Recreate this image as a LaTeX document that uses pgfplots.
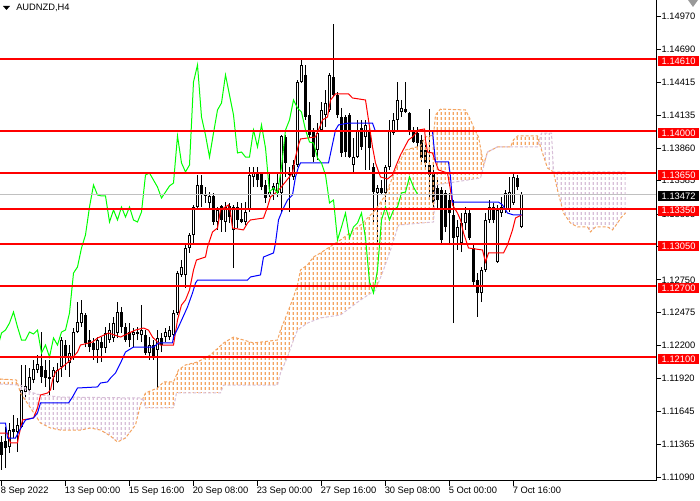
\documentclass[border=0pt]{standalone}
\usepackage{fontspec}
\setmainfont{Liberation Sans}
\usepackage{pgfplots}
\pgfplotsset{compat=1.18}
\usepackage{pgfplotstable}
\usetikzlibrary{patterns}

\definecolor{sandy}{RGB}{244,164,96}
\definecolor{thistl}{RGB}{216,191,216}
\definecolor{mtlime}{RGB}{0,255,0}
\definecolor{bidgray}{RGB}{192,192,192}
\newcommand\mtfont{\fontsize{7}{8}\selectfont}

% vertical dotted hatch used by the Ichimoku cloud (one stroke per 4px bar)
\pgfdeclarepatterninherentlycolored{kumoA}{\pgfpointorigin}{\pgfpoint{3pt}{3.75pt}}{\pgfpoint{3pt}{3.75pt}}{%
  \pgfsetstrokecolor{sandy}\pgfsetlinewidth{1.05pt}%
  \pgfpathmoveto{\pgfpoint{1.125pt}{0pt}}%
  \pgfpathlineto{\pgfpoint{1.125pt}{2.6pt}}%
  \pgfusepath{stroke}}
\pgfdeclarepatterninherentlycolored{kumoB}{\pgfpointorigin}{\pgfpoint{3pt}{3.75pt}}{\pgfpoint{3pt}{3.75pt}}{%
  \pgfsetstrokecolor{thistl}\pgfsetlinewidth{1.05pt}%
  \pgfpathmoveto{\pgfpoint{1.125pt}{0pt}}%
  \pgfpathlineto{\pgfpoint{1.125pt}{2.6pt}}%
  \pgfusepath{stroke}}

% AUDNZD H4 candles: index, open, high, low, close
\pgfplotstableread{
i o h l c
0 1.11385 1.11436 1.11150 1.11276
1 1.11394 1.11512 1.11166 1.11335
2 1.11343 1.11545 1.11293 1.11486
3 1.11495 1.11613 1.11419 1.11469
4 1.11469 1.11588 1.11302 1.11529
5 1.11512 1.12034 1.11503 1.11823
6 1.11806 1.12034 1.11739 1.11857
7 1.11823 1.12009 1.11798 1.11933
8 1.11907 1.12076 1.11882 1.12000
9 1.11992 1.12118 1.11966 1.12042
10 1.12025 1.12311 1.11882 1.11933
11 1.11992 1.12076 1.11849 1.11924
12 1.11933 1.12076 1.11781 1.11916
13 1.11933 1.12017 1.11823 1.11992
14 1.11891 1.12050 1.11882 1.11992
15 1.12017 1.12269 1.11933 1.12244
16 1.12202 1.12244 1.11992 1.12101
17 1.12050 1.12202 1.11933 1.12135
18 1.12101 1.12345 1.12076 1.12311
19 1.12311 1.12564 1.12303 1.12396
20 1.12387 1.12581 1.12354 1.12472
21 1.12455 1.12472 1.12185 1.12219
22 1.12244 1.12328 1.12143 1.12185
23 1.12219 1.12261 1.12076 1.12160
24 1.12160 1.12269 1.12050 1.12244
25 1.12227 1.12269 1.12059 1.12177
26 1.12177 1.12354 1.12135 1.12303
27 1.12244 1.12387 1.12219 1.12328
28 1.12261 1.12438 1.12227 1.12387
29 1.12303 1.12564 1.12261 1.12480
30 1.12480 1.12522 1.12303 1.12354
31 1.12354 1.12387 1.12227 1.12244
32 1.12311 1.12387 1.12185 1.12244
33 1.12286 1.12345 1.12185 1.12311
34 1.12311 1.12354 1.12244 1.12295
35 1.12286 1.12539 1.12227 1.12328
36 1.12286 1.12328 1.12118 1.12135
37 1.12135 1.12269 1.12076 1.12202
38 1.12202 1.12244 1.12076 1.12101
39 1.12160 1.12328 1.11840 1.12261
40 1.12261 1.12303 1.12143 1.12202
41 1.12269 1.12345 1.12227 1.12311
42 1.12269 1.12362 1.12244 1.12328
43 1.12286 1.12497 1.12244 1.12472
44 1.12472 1.12825 1.12455 1.12808
45 1.12792 1.12918 1.12775 1.12859
46 1.12792 1.13061 1.12682 1.13019
47 1.13019 1.13146 1.12977 1.13129
48 1.13129 1.13381 1.13045 1.13364
49 1.13364 1.13634 1.13355 1.13549
50 1.13549 1.13634 1.13364 1.13465
51 1.13472 1.13532 1.13398 1.13457
52 1.13398 1.13490 1.13339 1.13457
53 1.13457 1.13482 1.13212 1.13238
54 1.13238 1.13364 1.13171 1.13339
55 1.13372 1.13381 1.13154 1.13255
56 1.13238 1.13406 1.13154 1.13364
57 1.13372 1.13398 1.13229 1.13280
58 1.13171 1.13381 1.12850 1.13364
59 1.13364 1.13406 1.13187 1.13255
60 1.13263 1.13398 1.13229 1.13238
61 1.13238 1.13406 1.13212 1.13322
62 1.13339 1.13701 1.13322 1.13634
63 1.13617 1.13701 1.13532 1.13650
64 1.13659 1.13701 1.13532 1.13591
65 1.13650 1.13659 1.13507 1.13532
66 1.13549 1.13591 1.13398 1.13440
67 1.13465 1.13650 1.13448 1.13490
68 1.13507 1.13566 1.13423 1.13541
69 1.13482 1.13650 1.13448 1.13566
70 1.13482 1.13970 1.13322 1.13962
71 1.13954 1.13970 1.13617 1.13735
72 1.13634 1.13701 1.13322 1.13659
73 1.13617 1.13760 1.13591 1.13718
74 1.13718 1.14433 1.13701 1.14417
75 1.14417 1.14602 1.14408 1.14560
76 1.14476 1.14560 1.14097 1.14122
77 1.14139 1.14248 1.13945 1.13970
78 1.14012 1.14029 1.13743 1.13785
79 1.13844 1.14071 1.13760 1.13987
80 1.14012 1.14248 1.13996 1.14181
81 1.14139 1.14349 1.14038 1.14240
82 1.14181 1.14492 1.14164 1.14476
83 1.14459 1.14905 1.14290 1.14307
84 1.14307 1.14332 1.14113 1.14139
85 1.14122 1.14198 1.13785 1.13819
86 1.14122 1.14139 1.13785 1.13827
87 1.14139 1.14156 1.13777 1.13785
88 1.13718 1.13945 1.13659 1.13785
89 1.13785 1.14097 1.13777 1.14012
90 1.14029 1.14097 1.13844 1.13870
91 1.13954 1.14097 1.13676 1.14055
92 1.14012 1.14029 1.13676 1.13861
93 1.13701 1.13735 1.13221 1.13490
94 1.13482 1.13549 1.13070 1.13524
95 1.13524 1.13591 1.13465 1.13482
96 1.13482 1.13718 1.13406 1.13701
97 1.13701 1.14097 1.13676 1.14012
98 1.13987 1.14156 1.13970 1.14097
99 1.14097 1.14417 1.14012 1.14265
100 1.14164 1.14265 1.14122 1.14198
101 1.14189 1.14417 1.14156 1.14164
102 1.14156 1.14164 1.13970 1.14012
103 1.14012 1.14038 1.13903 1.13911
104 1.13987 1.14038 1.13844 1.13903
105 1.13929 1.13970 1.13735 1.13777
106 1.13844 1.13903 1.13701 1.13735
107 1.13718 1.14189 1.13423 1.13634
108 1.13650 1.13735 1.13339 1.13398
109 1.13524 1.13617 1.13339 1.13423
110 1.13507 1.13532 1.13045 1.13087
111 1.13482 1.13507 1.13154 1.13196
112 1.13423 1.13482 1.13061 1.13313
113 1.13297 1.13423 1.12387 1.13103
114 1.13112 1.13255 1.13002 1.13196
115 1.13061 1.13313 1.12985 1.13229
116 1.13229 1.13364 1.13171 1.13313
117 1.13313 1.13339 1.13087 1.13103
118 1.13019 1.13061 1.12690 1.12733
119 1.12749 1.12808 1.12438 1.12640
120 1.12640 1.12859 1.12564 1.12834
121 1.12834 1.13313 1.12817 1.13255
122 1.13255 1.13423 1.13229 1.13364
123 1.13364 1.13398 1.13229 1.13255
124 1.12901 1.13381 1.12893 1.13339
125 1.13313 1.13448 1.13280 1.13364
126 1.13339 1.13507 1.13313 1.13482
127 1.13339 1.13617 1.13322 1.13490
128 1.13398 1.13650 1.13381 1.13617
129 1.13608 1.13634 1.13507 1.13532
130 1.13196 1.13490 1.13187 1.13472
}\candles

\begin{document}
\begin{tikzpicture}
\fill[white] (0pt,-14.25pt) rectangle (525pt,360.75pt);
\useasboundingbox (0pt,-14.25pt) rectangle (525pt,360.75pt);
\begin{axis}[
  at={(0pt,0pt)}, anchor=south west,
  scale only axis, width=492pt, height=360.75pt,
  xmin=-0.375, xmax=163.625, ymin=1.11057, ymax=1.15107,
  axis x line*=bottom, axis y line*=right,
  axis line style={black, line width=0.75pt},
  tick align=outside, major tick length=3.5pt,
  tick style={black, line width=0.75pt},
  xtick={0,16,32,48,64,80,96,112,128},
  xticklabels={8 Sep 2022,13 Sep 00:00,15 Sep 16:00,20 Sep 08:00,23 Sep 00:00,27 Sep 16:00,30 Sep 08:00,5 Oct 00:00,7 Oct 16:00},
  ytick={1.11090,1.11365,1.11645,1.11920,1.12200,1.12475,1.12750,1.13030,1.13305,1.13585,1.13860,1.14135,1.14415,1.14690,1.14970},
  yticklabels={1.11090,1.11365,1.11645,1.11920,1.12200,1.12475,1.12750,1.13030,1.13305,1.13585,1.13860,1.14135,1.14415,1.14690,1.14970},
  scaled y ticks=false,
  tick label style={font=\mtfont, text=black},
  xticklabel style={anchor=north west, inner sep=0pt, xshift=-0.75pt, yshift=-0.5pt},
  yticklabel style={anchor=west, inner sep=0pt, xshift=0.5pt},
]
% wicks
\addplot[draw=none, no markers, forget plot,
  error bars/.cd, y dir=plus, y explicit, error mark=none,
  error bar style={draw=black, solid, line width=0.75pt}]
  table[x=i, y=l, y error plus expr=\thisrow{h}-\thisrow{l}] {\candles};
% bodies, filled black
\addplot[draw=none, no markers, forget plot,
  error bars/.cd, y dir=plus, y explicit, error mark=none,
  error bar style={draw=black, solid, line width=2.25pt}]
  table[x=i, y expr={min(\thisrow{o},\thisrow{c})}, y error plus expr={abs(\thisrow{c}-\thisrow{o})}] {\candles};
% rising bodies are hollow: white inside a one-pixel frame
\addplot[draw=none, no markers, forget plot,
  error bars/.cd, y dir=plus, y explicit, error mark=none,
  error bar style={draw=white, solid, line width=0.75pt}]
  table[x=i, y expr=\thisrow{o}+0.0000842, y error plus expr={max(\thisrow{c}-\thisrow{o}-0.0001684,0)}] {\candles};

% cloud hatching between Senkou span A and B
\addplot[draw=none, pattern=kumoA] coordinates {
(-0.375,1.11916) (3.75,1.11907) (4.12,1.11866) (-0.375,1.11874)} -- cycle;
\addplot[draw=none, pattern=kumoB] coordinates {
(4.12,1.11866) (4.75,1.11798) (7.25,1.11672) (9.75,1.11545) (12.25,1.11503) (14.75,1.11486)
(19.75,1.11486) (22.25,1.11503) (24.75,1.11486) (27.25,1.11436) (29,1.11385) (31,1.11419)
(33.5,1.11529) (34.75,1.11697) (35.3,1.11745)
(34.75,1.11756) (14.75,1.11764) (9.75,1.11781) (7.25,1.11806) (4.75,1.11865)} -- cycle;
\addplot[draw=none, pattern=kumoA] coordinates {
(35.3,1.11745) (35.5,1.11764) (36,1.11798) (39,1.11840) (40.5,1.11891) (43,1.11891)
(44.25,1.11992) (46,1.12034) (49,1.12059) (52.25,1.12118) (55.5,1.12219) (58,1.12269)
(63,1.12219) (69,1.12244) (69.75,1.12328) (71.5,1.12472) (73,1.12606) (74,1.12707)
(74.75,1.12834) (76.5,1.12876) (78,1.12943) (79.75,1.12977) (84.75,1.13087) (89.75,1.13212)
(93.5,1.13339) (96,1.13465) (98.5,1.13676) (99.75,1.13760) (101,1.13844) (104.75,1.13878)
(106,1.13954) (108,1.13970) (108.5,1.14139) (109.75,1.14189) (116,1.14181) (117.25,1.14097)
(118,1.14038) (119.25,1.13954) (120,1.13819) (120.5,1.13718) (121.5,1.13827)
(119.75,1.13608) (108.5,1.13549) (108,1.13238) (99.25,1.13212) (97.25,1.13002) (95.5,1.12834)
(93.5,1.12665) (89.75,1.12581) (84.75,1.12455) (79.75,1.12430) (76.5,1.12387) (74,1.12328)
(73,1.12244) (71.5,1.12101) (69.75,1.11966) (69,1.11865) (55.5,1.11865) (54.75,1.11798)
(43.75,1.11798) (43,1.11672) (36,1.11672) (35.5,1.11739)} -- cycle;
\addplot[draw=none, pattern=kumoA] coordinates {
(127.25,1.13870) (128,1.13929) (129,1.13962) (134,1.13962) (134.38,1.13915)
(134,1.13870)} -- cycle;
\addplot[draw=none, pattern=kumoB] coordinates {
(134.38,1.13915) (135,1.13987) (137.5,1.13987) (138,1.13659) (156,1.13659)
(156,1.13313) (155,1.13280) (154,1.13229) (152.75,1.13171) (151.5,1.13196) (148.5,1.13196)
(147.25,1.13154) (146.5,1.13196) (144,1.13196) (142.25,1.13229) (140.5,1.13313) (139,1.13507)
(138,1.13659) (136.5,1.13692) (134.75,1.13870)} -- cycle;

% Senkou span A and B outlines
\addplot[sandy, line width=0.75pt, dash pattern=on 2.25pt off 1.5pt] coordinates {
(-0.375,1.11916) (3.75,1.11907) (4.75,1.11798) (7.25,1.11672) (9.75,1.11545) (12.25,1.11503)
(14.75,1.11486) (19.75,1.11486) (22.25,1.11503) (24.75,1.11486) (27.25,1.11436) (29,1.11385)
(31,1.11419) (33.5,1.11529) (34.75,1.11697) (35.5,1.11764) (36,1.11798) (39,1.11840)
(40.5,1.11891) (43,1.11891) (44.25,1.11992) (46,1.12034) (49,1.12059) (52.25,1.12118)
(55.5,1.12219) (58,1.12269) (63,1.12219) (69,1.12244) (69.75,1.12328) (71.5,1.12472)
(73,1.12606) (74,1.12707) (74.75,1.12834) (76.5,1.12876) (78,1.12943) (79.75,1.12977)
(84.75,1.13087) (89.75,1.13212) (93.5,1.13339) (96,1.13465) (98.5,1.13676) (99.75,1.13760)
(101,1.13844) (104.75,1.13878) (106,1.13954) (108,1.13970) (108.5,1.14139) (109.75,1.14189)
(116,1.14181) (117.25,1.14097) (118,1.14038) (119.25,1.13954) (120,1.13819) (120.5,1.13718)
(121.5,1.13827) (124,1.13870) (127.25,1.13870) (128,1.13929) (129,1.13962) (134,1.13962)
(134.75,1.13870) (136.5,1.13692) (138,1.13659) (139,1.13507) (140.5,1.13313) (142.25,1.13229)
(144,1.13196) (146.5,1.13196) (147.25,1.13154) (148.5,1.13196) (151.5,1.13196) (152.75,1.13171)
(154,1.13229) (155,1.13280) (156,1.13313)
};
\addplot[thistl, line width=0.75pt, dash pattern=on 2.25pt off 1.5pt] coordinates {
(-0.375,1.11874) (4.75,1.11865) (7.25,1.11806) (9.75,1.11781) (14.75,1.11764) (34.75,1.11756)
(35.5,1.11739) (36,1.11672) (43,1.11672) (43.75,1.11798) (54.75,1.11798) (55.5,1.11865)
(69,1.11865) (69.75,1.11966) (71.5,1.12101) (73,1.12244) (74,1.12328) (76.5,1.12387)
(79.75,1.12430) (84.75,1.12455) (89.75,1.12581) (93.5,1.12665) (95.5,1.12834) (97.25,1.13002)
(99.25,1.13212) (108,1.13238) (108.5,1.13549) (119.75,1.13608) (121.5,1.13827) (124,1.13870)
(134,1.13870) (135,1.13987) (137.5,1.13987) (138,1.13659) (156,1.13659)
};

% Tenkan-sen
\addplot[red, line width=0.75pt] coordinates {
(-0.375,1.11461) (1.5,1.11461) (2.25,1.11377) (4,1.11377) (4.25,1.11427) (5.25,1.11571) (8,1.11588)
(9,1.11672) (9.75,1.11781) (11.5,1.11798) (12.25,1.11823) (12.75,1.11907) (13.5,1.11975)
(15.25,1.12017) (17.25,1.12076) (19,1.12143) (19.75,1.12202) (22.75,1.12227) (24,1.12261)
(26.75,1.12303) (29.75,1.12269) (33.5,1.12328) (35.5,1.12345) (36.75,1.12328) (37.75,1.12269)
(39.75,1.12202) (43,1.12202) (44,1.12413) (45,1.12539) (46,1.12581) (47,1.12665) (48,1.12834)
(48.75,1.12918) (51,1.12943) (51.5,1.13028) (52.75,1.13154) (54,1.13187) (54.75,1.13339)
(56.75,1.13381) (57.25,1.13313) (57.75,1.13187) (60.5,1.13171) (61.5,1.13229) (62.25,1.13255)
(65.5,1.13271) (66.5,1.13364) (67.25,1.13448) (68.5,1.13482) (69.75,1.13524) (72.75,1.13650)
(73.5,1.13785) (74.25,1.13886) (74.75,1.13937) (78.5,1.13954) (79.25,1.14012) (80.25,1.14097)
(81.5,1.14122) (82.25,1.14265) (83.5,1.14316) (86.75,1.14316) (87.75,1.14282) (91,1.14265)
(91.75,1.14097) (92.75,1.13870) (93.5,1.13735) (94.75,1.13617) (96.5,1.13600) (97.75,1.13634)
(98.5,1.13701) (99.75,1.13802) (101.75,1.13929) (102.75,1.13954) (104.25,1.14012) (105.75,1.14021)
(106,1.13929) (106.5,1.13827) (107.75,1.13819) (108.5,1.13743) (109.25,1.13676) (111.5,1.13650)
(112.25,1.13507) (112.75,1.13381) (114,1.13313) (114.75,1.13255) (115.5,1.13146) (116.75,1.13019)
(120.25,1.13002) (121,1.12901) (121.75,1.12977) (125.5,1.12977) (126.5,1.13045) (127.75,1.13171)
(128.5,1.13271) (130,1.13297)
};
% Kijun-sen
\addplot[blue, line width=0.75pt] coordinates {
(-0.375,1.11545) (1,1.11545) (1.5,1.11419) (3.5,1.11419) (5.25,1.11529) (6,1.11571) (8,1.11588)
(9,1.11630) (9.75,1.11714) (16.75,1.11714) (17.75,1.11764) (19,1.11840) (24,1.11849)
(24.75,1.11882) (26.5,1.11891) (27.25,1.11924) (28.5,1.11966) (29.75,1.12050) (31,1.12143)
(33,1.12185) (38,1.12185) (39.25,1.12219) (42.75,1.12219) (43,1.12269) (44.25,1.12354)
(46.5,1.12522) (47.75,1.12640) (48.5,1.12724) (49,1.12749) (61.5,1.12749) (62.25,1.12775)
(64.75,1.12792) (65.5,1.12943) (68,1.12977) (68.5,1.13061) (69.25,1.13255) (70.25,1.13339)
(71.5,1.13423) (72.75,1.13465) (73.5,1.13617) (74.25,1.13701) (74.75,1.13735) (81.75,1.13735)
(83.5,1.14012) (84.25,1.14055) (86.75,1.14071) (92.75,1.14071) (93.5,1.14000) (107.75,1.14000)
(108.5,1.13743) (111.75,1.13743) (112.25,1.13617) (112.75,1.13406) (124.25,1.13406)
(125.25,1.13381) (126.5,1.13313) (128,1.13297) (130,1.13297)
};
% Chikou span: close shifted 26 bars back
\addplot[mtlime, line width=0.75pt] table[x expr=\thisrow{i}-26, y=c] {\candles};

% bid line
\addplot[bidgray, line width=0.75pt] coordinates {(-0.375,1.13472) (163.625,1.13472)};
% horizontal levels
\addplot[red, line width=1.5pt] coordinates {(-0.375,1.14610) (163.625,1.14610)};
\addplot[red, line width=1.5pt] coordinates {(-0.375,1.14000) (163.625,1.14000)};
\addplot[red, line width=1.5pt] coordinates {(-0.375,1.13650) (163.625,1.13650)};
\addplot[red, line width=1.5pt] coordinates {(-0.375,1.13350) (163.625,1.13350)};
\addplot[red, line width=1.5pt] coordinates {(-0.375,1.13050) (163.625,1.13050)};
\addplot[red, line width=1.5pt] coordinates {(-0.375,1.12700) (163.625,1.12700)};
\addplot[red, line width=1.5pt] coordinates {(-0.375,1.12100) (163.625,1.12100)};
\end{axis}

% right-hand price labels (plot area spans 0..360.75pt for 1.11057..1.15107)
\tikzset{lvl/.style={anchor=west, fill=red, text=white, font=\mtfont, inner xsep=2.6pt, inner ysep=0pt, minimum height=7.5pt}}
\node[lvl] at (493.5pt,315.00pt) {1.14610};
\node[lvl] at (493.5pt,260.67pt) {1.14000};
\node[lvl] at (493.5pt,229.50pt) {1.13650};
\node[lvl] at (493.5pt,202.78pt) {1.13350};
\node[lvl] at (493.5pt,176.06pt) {1.13050};
\node[lvl] at (493.5pt,144.88pt) {1.12700};
\node[lvl] at (493.5pt,91.44pt) {1.12100};
\node[lvl, fill=black] at (493.5pt,213.46pt) {1.13472};

% window caption and shift marker
\fill[black] (2.25pt,356.25pt) -- (7.5pt,356.25pt) -- (4.875pt,353.25pt) -- cycle;
\node[anchor=west, font=\mtfont, inner sep=0pt] at (12pt,354.6pt) {AUDNZD,H4};
\fill[black!40] (516pt,360.75pt) -- (523.5pt,360.75pt) -- (519.75pt,355.5pt) -- cycle;
\end{tikzpicture}
\end{document}
